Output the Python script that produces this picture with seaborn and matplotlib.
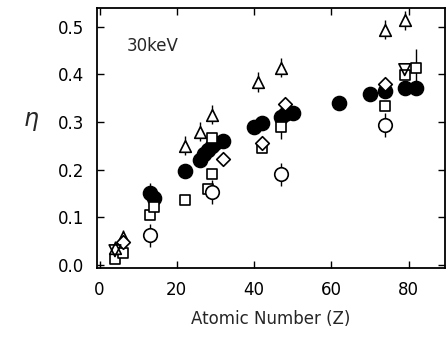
import numpy as np
import pandas as pd
import matplotlib
matplotlib.use('Agg')
import matplotlib.pyplot as plt
import seaborn as sns

# backscatter coefficient at 30 keV
z_filled = [13, 14, 22, 26, 27, 28, 29, 30, 32, 40, 42, 47, 48, 50, 62, 70, 74, 79, 82]
eta_filled = [0.152, 0.140, 0.197, 0.220, 0.232, 0.242, 0.250, 0.255, 0.260, 0.290,
              0.298, 0.310, 0.316, 0.320, 0.340, 0.358, 0.366, 0.372, 0.372]

z_square = [4, 6, 13, 14, 22, 28, 29, 29, 42, 47, 74, 79, 82]
eta_square = [0.012, 0.026, 0.104, 0.122, 0.136, 0.160, 0.192, 0.266, 0.245, 0.290, 0.334, 0.398, 0.413]
err_square = [0.0, 0.0, 0.0, 0.0, 0.0, 0.0, 0.0, 0.0, 0.0, 0.025, 0.0, 0.0, 0.04]

z_triangle = [4, 6, 22, 26, 29, 41, 47, 74, 79]
eta_triangle = [0.036, 0.058, 0.250, 0.280, 0.315, 0.384, 0.414, 0.494, 0.514]
err_triangle = [0.015, 0.015, 0.02, 0.02, 0.02, 0.02, 0.02, 0.02, 0.02]

z_tridown = [4, 79]
eta_tridown = [0.030, 0.410]

z_circle = [13, 29, 47, 74]
eta_circle = [0.062, 0.154, 0.190, 0.294]
err_circle = [0.025, 0.025, 0.025, 0.025]

z_diamond = [6, 32, 42, 48, 74]
eta_diamond = [0.048, 0.222, 0.257, 0.337, 0.380]

sns.set_style('ticks')
plt.rcParams['font.family'] = ['DejaVu Sans']

fig = plt.figure(figsize=(4.46, 3.46), dpi=100)
ax = fig.add_axes([0.2175, 0.2254, 0.78, 0.751])

# error bars first, markers on top
ax.errorbar(z_triangle, eta_triangle, yerr=err_triangle, fmt='none', ecolor='black', elinewidth=1)
ax.errorbar(z_circle, eta_circle, yerr=err_circle, fmt='none', ecolor='black', elinewidth=1)
ax.errorbar(z_square, eta_square, yerr=[err_square, err_square], fmt='none', ecolor='black', elinewidth=1)
ax.errorbar([13], [0.152], yerr=[[0.0], [0.02]], fmt='none', ecolor='black', elinewidth=1)

sns.scatterplot(x=z_filled, y=eta_filled, marker='o', s=105, color='black',
                edgecolor='black', linewidth=1, ax=ax, zorder=3)
open_kw = dict(facecolor='white', edgecolor='black', linewidth=1.2, ax=ax, zorder=4)
sns.scatterplot(x=z_square, y=eta_square, marker='s', s=55, **open_kw)
sns.scatterplot(x=z_triangle, y=eta_triangle, marker='^', s=70, **open_kw)
sns.scatterplot(x=z_tridown, y=eta_tridown, marker='v', s=70, facecolor='none',
                edgecolor='black', linewidth=1.2, ax=ax, zorder=5)
sns.scatterplot(x=z_circle, y=eta_circle, marker='o', s=95, **open_kw)
sns.scatterplot(x=z_diamond, y=eta_diamond, marker='D', s=48, **open_kw)

ax.set_xlim(-0.65, 89.4)
ax.set_ylim(-0.0063, 0.539)
ax.set_xticks([0, 20, 40, 60, 80])
ax.set_yticks([0.0, 0.1, 0.2, 0.3, 0.4, 0.5])
ax.set_yticklabels(['0.0', '0.1', '0.2', '0.3', '0.4', '0.5'])
ax.tick_params(direction='in', length=5, width=1, top=True, right=True,
               labelsize=12, colors='black')
ax.tick_params(axis='x', pad=9)
ax.tick_params(axis='y', pad=9)
for sp in ax.spines.values():
    sp.set_linewidth(1.3)
    sp.set_color('black')

ax.set_xlabel('Atomic Number (Z)', fontsize=12, labelpad=8)
ax.set_ylabel(r'$\eta$', fontsize=17, rotation=0)
ax.yaxis.set_label_coords(-0.19, 0.52)
ax.text(7.0, 0.46, '30keV', fontsize=12, va='center', ha='left')

fig.savefig('out.png', dpi=100)
